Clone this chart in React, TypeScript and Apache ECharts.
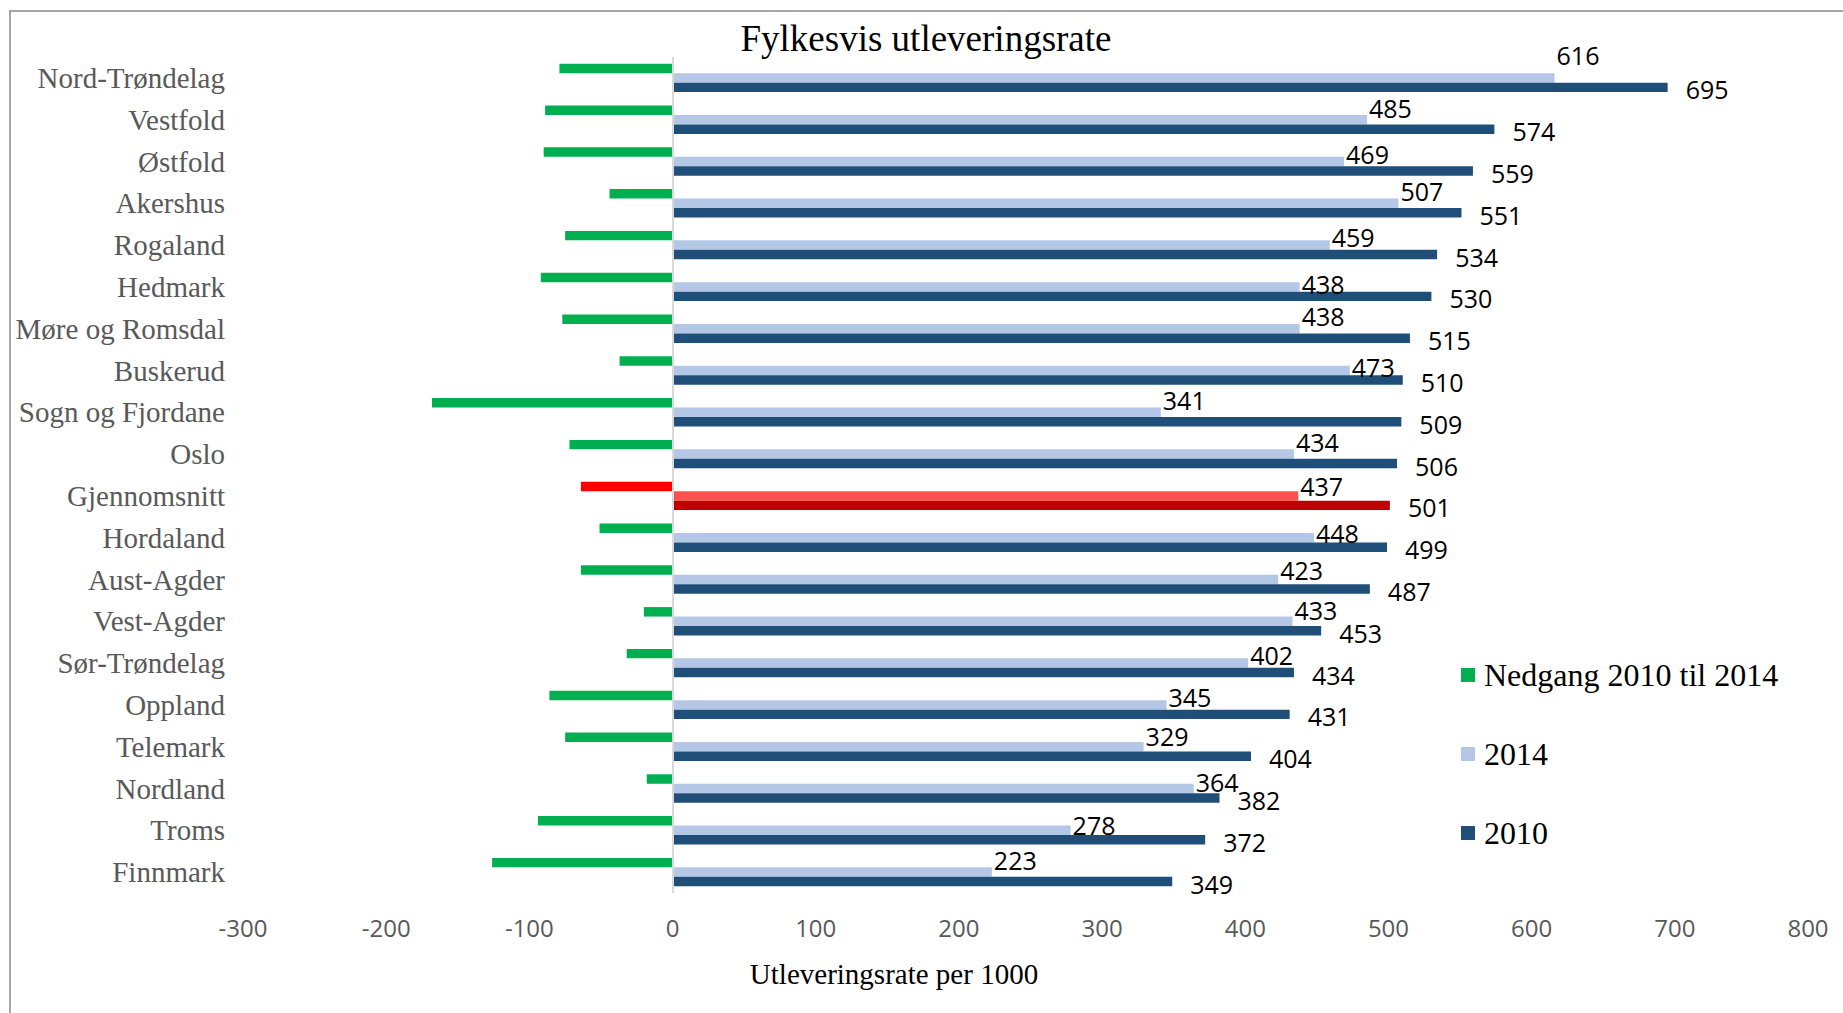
import React, { useEffect, useRef } from "react";
import * as echarts from "echarts";

const categories = [
  "Nord-Trøndelag", "Vestfold", "Østfold", "Akershus", "Rogaland", "Hedmark",
  "Møre og Romsdal", "Buskerud", "Sogn og Fjordane", "Oslo", "Gjennomsnitt",
  "Hordaland", "Aust-Agder", "Vest-Agder", "Sør-Trøndelag", "Oppland",
  "Telemark", "Nordland", "Troms", "Finnmark",
];
const values2014 = [616, 485, 469, 507, 459, 438, 438, 473, 341, 434, 437, 448, 423, 433, 402, 345, 329, 364, 278, 223];
const values2010 = [695, 574, 559, 551, 534, 530, 515, 510, 509, 506, 501, 499, 487, 453, 434, 431, 404, 382, 372, 349];
const nedgang = [-79, -89, -90, -44, -75, -92, -77, -37, -168, -72, -64, -51, -64, -20, -32, -86, -75, -18, -94, -126];
const xTicks = { min: -300, max: 800, interval: 100 };
const highlightCategory = "Gjennomsnitt";

// vertical nudges (px) of the 2014 value labels, as placed in the original
const label2014Dy = [-23, -12, -8, -12, -8, -3, -13, -4, -12, -12, -10, -5, -10, -11, -8, -8, -11, -7, -5, -12];

const SERIF = "'Liberation Serif', 'Times New Roman', serif";
const SANS = "'Open Sans', 'Noto Sans', sans-serif";

export default function App() {
  const ref = useRef<HTMLDivElement>(null);
  useEffect(() => {
    if (!ref.current) return;
    const chart = echarts.init(ref.current, undefined, { renderer: "svg" });
    const mk = (vals: number[], hi: string, dy?: number[]) =>
      vals.map((v, i) => {
        const item: any = { value: v };
        if (categories[i] === highlightCategory) item.itemStyle = { color: hi };
        if (dy) item.label = { offset: [0, dy[i]] };
        return item;
      });
    chart.setOption({
      animation: false,
      backgroundColor: "#ffffff",
      grid: { left: 243, right: 25, top: 57, bottom: 120, containLabel: false },
      legend: {
        orient: "vertical",
        left: 1461,
        top: 659,
        padding: 0,
        itemWidth: 14,
        itemHeight: 14,
        itemGap: 47,
        icon: "rect",
        data: ["Nedgang 2010 til 2014", "2014", "2010"],
        textStyle: { fontFamily: SERIF, fontSize: 32, lineHeight: 32, color: "#000000", padding: [0, 0, 0, 4] },
      },
      xAxis: {
        type: "value",
        min: xTicks.min,
        max: xTicks.max,
        interval: xTicks.interval,
        splitLine: { show: false },
        axisLine: { show: false },
        axisTick: { show: false },
        axisLabel: {
          fontFamily: SANS,
          fontSize: 24,
          color: "#595959",
          margin: 22,
          formatter: (v: number) => (v === xTicks.max ? `{m|${v}}` : `${v}`),
          rich: { m: { fontFamily: SANS, fontSize: 24, color: "#595959", padding: [0, 20, 0, 0] } },
        },
      },
      yAxis: {
        type: "category",
        inverse: true,
        data: categories,
        axisLine: { show: false },
        axisTick: { show: false },
        axisLabel: { fontFamily: SERIF, fontSize: 29, color: "#595959", margin: 18 },
      },
      series: [
        {
          name: "Nedgang 2010 til 2014",
          type: "bar",
          data: mk(nedgang, "#FF0000"),
          itemStyle: { color: "#00B050" },
          barGap: "0%",
          barCategoryGap: "32%",
        },
        {
          name: "2014",
          type: "bar",
          data: mk(values2014, "#FF5050", label2014Dy),
          itemStyle: { color: "#B4C7E7" },
          barGap: "0%",
          barCategoryGap: "32%",
          label: {
            show: true,
            position: "right",
            distance: 2,
            fontFamily: SANS,
            fontSize: 25,
            color: "#000000",
          },
        },
        {
          name: "2010",
          type: "bar",
          data: mk(values2010, "#C00000"),
          itemStyle: { color: "#1F4E79" },
          barGap: "0%",
          barCategoryGap: "32%",
          label: {
            show: true,
            position: "right",
            distance: 18,
            offset: [0, 2],
            fontFamily: SANS,
            fontSize: 25,
            color: "#000000",
          },
          markLine: {
            silent: true,
            symbol: ["none", "none"],
            label: { show: false },
            lineStyle: { color: "#D9D9D9", width: 2, type: "solid" },
            data: [{ xAxis: 0 }],
          },
        },
      ],
      graphic: [
        {
          type: "rect",
          shape: { x: 10, y: 11, width: 1840, height: 1010 },
          style: { fill: "none", stroke: "#A6A6A6", lineWidth: 2 },
          silent: true,
        },
        {
          type: "text",
          x: 926,
          y: 38,
          style: {
            text: "Fylkesvis utleveringsrate",
            font: `37px ${SERIF}`,
            fill: "#000000",
            textAlign: "center",
            textVerticalAlign: "middle",
          },
        },
        {
          type: "text",
          x: 894,
          y: 974,
          style: {
            text: "Utleveringsrate per 1000",
            font: `29px ${SERIF}`,
            fill: "#000000",
            textAlign: "center",
            textVerticalAlign: "middle",
          },
        },
      ],
    });
    return () => chart.dispose();
  }, []);
  return (
    <div
      ref={ref}
      style={{ position: "absolute", left: 0, top: 0, width: 1843, height: 1013 }}
    />
  );
}
